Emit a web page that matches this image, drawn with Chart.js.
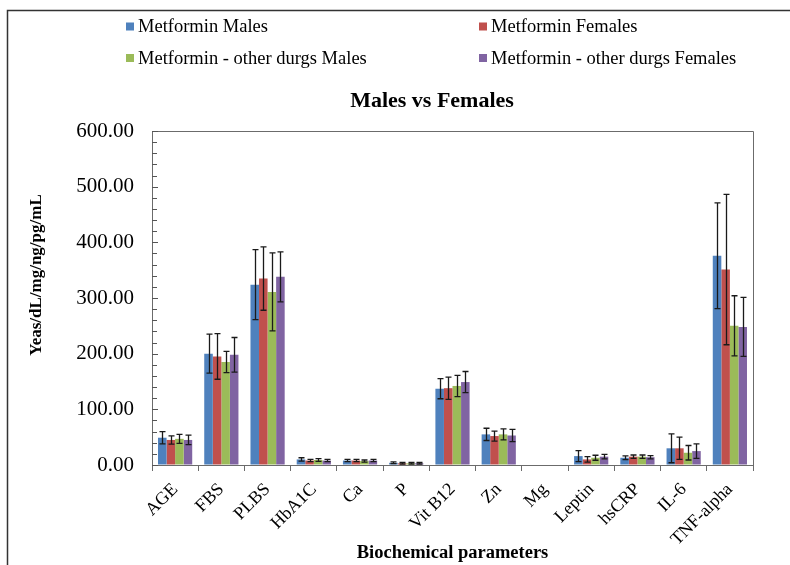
<!DOCTYPE html>
<html>
<head>
<meta charset="utf-8">
<script src="https://cdn.jsdelivr.net/npm/chart.js@4.4.0/dist/chart.umd.min.js"></script>
<style>
  html, body { margin: 0; padding: 0; background: #ffffff; }
  #wrap { width: 790px; height: 565px; position: relative; }
</style>
</head>
<body>
<div id="wrap"><canvas id="chart" width="790" height="565"></canvas></div>
<script>
// Biochemical parameters on the x axis
const categories = ['AGE', 'FBS', 'PLBS', 'HbA1C', 'Ca', 'P', 'Vit B12', 'Zn', 'Mg', 'Leptin', 'hsCRP', 'IL-6', 'TNF-alpha'];

const seriesNames = [
  'Metformin Males',
  'Metformin Females',
  'Metformin - other durgs Males',
  'Metformin - other durgs Females'
];

// Means per group (Mg not reported)
const metforminMales        = [49, 200, 324, 10, 8, 4, 137, 55, null, 16, 13, 30, 376];
const metforminFemales      = [45, 195, 335,  8, 8, 3, 138, 52, null, 10, 15, 30, 351];
const otherDrugsMales       = [47, 185, 311,  9, 7, 3, 142, 55, null, 13, 15, 22, 250];
const otherDrugsFemales     = [45, 198, 338,  8, 8, 3, 149, 53, null, 15, 14, 25, 248];

// Standard deviations drawn as error bars
const metforminMalesSD      = [11, 35, 63, 3, 2, 1.5, 18, 11, null, 10, 3.5, 26, 95];
const metforminFemalesSD    = [7.5, 41, 57, 2, 2, 1.5, 20, 9, null, 5, 3, 20, 135];
const otherDrugsMalesSD     = [8, 19, 70, 2.5, 2, 1.5, 19, 10, null, 4.5, 3, 13, 54];
const otherDrugsFemalesSD   = [8.5, 31, 45, 2, 2, 1.5, 19, 11, null, 4, 3, 13, 53];

// Y axis tick labels
const yTickValues = [0, 100, 200, 300, 400, 500, 600];
const yTickLabels = ['0.00', '100.00', '200.00', '300.00', '400.00', '500.00', '600.00'];

const colors = ['#4F81BD', '#C0504D', '#9BBB59', '#8064A2'];
const serif = "'Liberation Serif', 'Times New Roman', serif";

const seriesValues = [metforminMales, metforminFemales, otherDrugsMales, otherDrugsFemales];
const seriesErrors = [metforminMalesSD, metforminFemalesSD, otherDrugsMalesSD, otherDrugsFemalesSD];

// Error bars, the frame, inner tick marks, legend and titles
const decorations = {
  id: 'decorations',
  afterDatasetsDraw(chart) {
    const ctx = chart.ctx;
    const y = chart.scales.y;
    ctx.save();
    ctx.strokeStyle = '#1a1a1a';
    ctx.lineWidth = 1.3;
    chart.data.datasets.forEach((ds, di) => {
      const meta = chart.getDatasetMeta(di);
      meta.data.forEach((bar, i) => {
        const v = ds.data[i];
        const e = ds.errors[i];
        if (v == null || e == null) return;
        const x = Math.round(bar.x) + 0.5;
        const yTop = y.getPixelForValue(v + e);
        const yBot = y.getPixelForValue(Math.max(0, v - e));
        ctx.beginPath();
        ctx.moveTo(x, yTop); ctx.lineTo(x, yBot);
        ctx.moveTo(x - 3, yTop); ctx.lineTo(x + 3, yTop);
        ctx.moveTo(x - 3, yBot); ctx.lineTo(x + 3, yBot);
        ctx.stroke();
      });
    });
    ctx.restore();
  },
  afterDraw(chart) {
    const ctx = chart.ctx;
    const a = chart.chartArea;
    const y = chart.scales.y;
    ctx.save();

    // outer chart border (top and left edges visible)
    ctx.strokeStyle = '#333333';
    ctx.lineWidth = 1.5;
    ctx.beginPath();
    ctx.moveTo(7.5, 570); ctx.lineTo(7.5, 10.5); ctx.lineTo(800, 10.5);
    ctx.stroke();

    // plot area frame
    ctx.strokeStyle = '#6b6b6b';
    ctx.lineWidth = 1;
    ctx.beginPath();
    ctx.moveTo(Math.round(a.left) + 0.5, Math.round(a.top) + 0.5);
    ctx.lineTo(Math.round(a.right) + 0.5, Math.round(a.top) + 0.5);
    ctx.lineTo(Math.round(a.right) + 0.5, Math.round(a.bottom) + 0.5);
    ctx.stroke();

    // inside tick marks on the value axis
    ctx.strokeStyle = '#555555';
    ctx.beginPath();
    for (let v = 0; v <= 600; v += 20) {
      const py = Math.round(y.getPixelForValue(v)) + 0.5;
      const len = (v % 100 === 0) ? 6 : 5;
      ctx.moveTo(a.left, py); ctx.lineTo(a.left + len, py);
    }
    ctx.stroke();

    // legend in two columns
    const legendPos = [[126, 26.5], [479, 26.5], [126, 58], [479, 58]];
    ctx.font = '18.5px ' + serif;
    ctx.textBaseline = 'middle';
    ctx.textAlign = 'left';
    chart.data.datasets.forEach((ds, i) => {
      const [lx, ly] = legendPos[i];
      ctx.fillStyle = ds.backgroundColor;
      ctx.fillRect(lx, ly - 4, 8, 8);
      ctx.fillStyle = '#000000';
      ctx.fillText(ds.label, lx + 12, ly + 1);
    });

    // chart title
    ctx.font = 'bold 22px ' + serif;
    ctx.textAlign = 'center';
    ctx.fillText('Males vs Females', 432, 101);

    // value axis title
    ctx.font = 'bold 17px ' + serif;
    ctx.translate(37, 275);
    ctx.rotate(-Math.PI / 2);
    ctx.fillText('Yeas/dL/mg/ng/pg/mL', 0, 0);
    ctx.restore();
  }
};

const chart = new Chart(document.getElementById('chart'), {
  type: 'bar',
  data: {
    labels: categories,
    datasets: seriesNames.map((name, i) => ({
      label: name,
      data: seriesValues[i],
      errors: seriesErrors[i],
      backgroundColor: colors[i],
      borderWidth: 0,
      categoryPercentage: 0.74,
      barPercentage: 1.0
    }))
  },
  options: {
    responsive: false,
    animation: false,
    layout: { padding: { top: 131, right: 37, left: 0, bottom: 0 } },
    plugins: {
      legend: { display: false },
      title: { display: false },
      tooltip: { enabled: false }
    },
    scales: {
      x: {
        offset: true,
        grid: { offset: true, drawOnChartArea: false, drawTicks: true, tickLength: 6, color: '#6b6b6b' },
        border: { color: '#6b6b6b' },
        ticks: {
          font: { family: serif, size: 18 },
          color: '#000000',
          maxRotation: 45,
          minRotation: 45,
          autoSkip: false,
          padding: 8
        },
        title: {
          display: true,
          text: 'Biochemical parameters',
          font: { family: serif, size: 18.5, weight: 'bold' },
          color: '#000000',
          padding: { top: 0, bottom: 1 }
        },
        afterFit(scale) { scale.height = 100; }
      },
      y: {
        min: 0,
        max: 600,
        afterBuildTicks(scale) { scale.ticks = yTickValues.map(v => ({ value: v })); },
        ticks: {
          callback: (v) => yTickLabels[yTickValues.indexOf(v)],
          font: { family: serif, size: 21 },
          color: '#000000',
          padding: 18
        },
        grid: { drawOnChartArea: false, drawTicks: false },
        border: { color: '#6b6b6b' },
        title: { display: false },
        afterFit(scale) { scale.width = 152; }
      }
    }
  },
  plugins: [decorations]
});
</script>
</body>
</html>
